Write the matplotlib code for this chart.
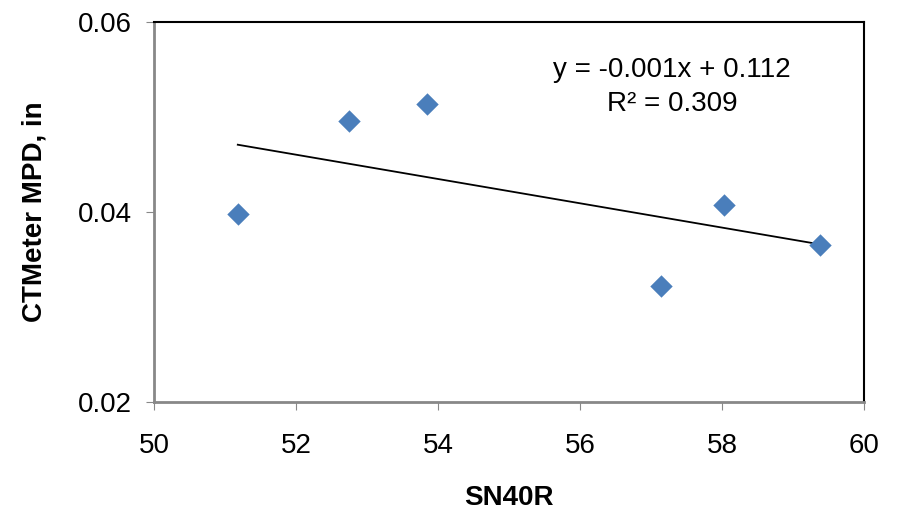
import matplotlib
matplotlib.use("Agg")
import matplotlib.pyplot as plt
import numpy as np

plt.rcParams['font.family'] = ['Liberation Sans', 'DejaVu Sans']

# data
sn40r = [51.18, 52.75, 53.85, 57.14, 58.03, 59.38]
mpd = [0.0398, 0.0496, 0.0514, 0.0322, 0.0407, 0.0365]
x_ticks = [50, 52, 54, 56, 58, 60]
y_ticks = [0.02, 0.04, 0.06]

fig = plt.figure(figsize=(9, 5.16), dpi=100)
ax = fig.add_axes([154 / 900, 1 - 402 / 516, (864 - 154) / 900, (402 - 22) / 516])

ax.scatter(sn40r, mpd, marker='D', s=130, color='#4a7ebb', zorder=3, linewidths=0)

# linear trendline
k, b = np.polyfit(sn40r, mpd, 1)
xs = np.array([min(sn40r), max(sn40r)])
ax.plot(xs, k * xs + b, color='black', lw=1.3, zorder=2)

ax.set_xlim(50, 60)
ax.set_ylim(0.02, 0.06)
ax.set_xticks(x_ticks)
ax.set_yticks(y_ticks)
ax.set_xticklabels([str(t) for t in x_ticks])
ax.set_yticklabels(['%.2f' % t for t in y_ticks])
ax.tick_params(labelsize=20, direction='out', length=6, color='#888888')
ax.tick_params(axis='x', pad=16)
ax.tick_params(axis='y', pad=10)

for s in ['left', 'bottom']:
    ax.spines[s].set_color('#888888')
    ax.spines[s].set_linewidth(2)
for s in ['top', 'right']:
    ax.spines[s].set_color('black')
    ax.spines[s].set_linewidth(1.5)

ax.set_xlabel('SN40R', fontsize=20, fontweight='bold', labelpad=19)
ax.set_ylabel('CTMeter MPD, in', fontsize=20, fontweight='bold', labelpad=22)

ax.text(0.73, 0.874, 'y = -0.001x + 0.112', transform=ax.transAxes,
        ha='center', va='center', fontsize=20)
ax.text(0.73, 0.784, 'R\u00b2 = 0.309', transform=ax.transAxes,
        ha='center', va='center', fontsize=20)

fig.savefig('out.png', dpi=100)
